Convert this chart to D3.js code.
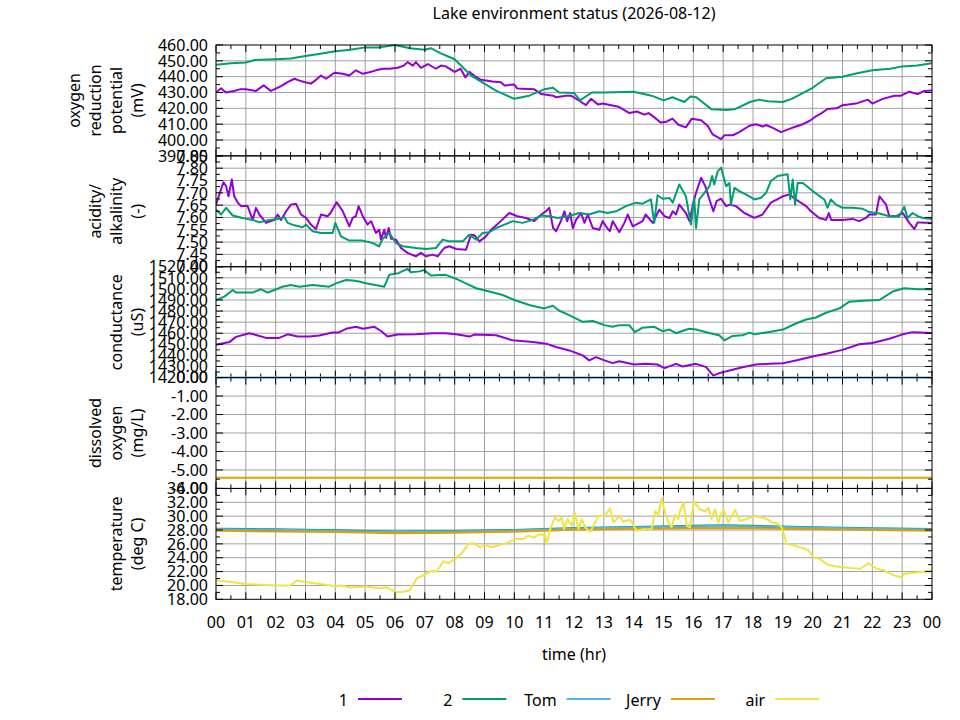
<!DOCTYPE html>
<html><head><meta charset="utf-8">
<script src="https://cdn.jsdelivr.net/npm/d3@7"></script>
<style>body{margin:0;background:#fff} svg{display:block} text{font-family:"Noto Sans",sans-serif;fill:#000}</style>
</head><body><svg id="c" width="960" height="720"></svg>
<script>
// ---------------- data ----------------
const title = "Lake environment status (2026-08-12)";
const xTitle = "time (hr)";
const xTickLabels = ["00","01","02","03","04","05","06","07","08","09","10","11","12","13","14","15","16","17","18","19","20","21","22","23","00"];
const seriesNames = ["1","2","Tom","Jerry","air"];
const seriesColors = ["#9400d3","#009e73","#56b4e9","#e69f00","#f0e442"];

const orp1 = [[0,430],[0.17,432.7],[0.33,430],[0.6,431],[0.8,432],[1.0,432],[1.34,431],[1.6,434.5],[1.84,431],[2.18,434],[2.4,436.6],[2.63,438.7],[2.8,437.5],[2.96,436.6],[3.18,435.6],[3.35,438],[3.52,440.7],[3.69,438.7],[3.97,442.5],[4.25,441.8],[4.47,440.7],[4.69,444],[4.92,441.8],[5.14,442.8],[5.36,444],[5.59,445],[5.81,445],[6.09,445.6],[6.3,447],[6.42,449.2],[6.6,447],[6.7,449.2],[6.87,445.6],[7.1,448],[7.37,445],[7.54,447],[7.7,446.5],[8.0,443],[8.2,445],[8.36,439.5],[8.5,443],[8.66,440.5],[8.88,438],[9.27,437],[9.55,436.5],[9.67,434.5],[10.0,435],[10.1,432.5],[10.67,432],[10.9,429],[11.3,428],[11.4,427],[11.73,428],[11.9,428],[12.24,424],[12.4,422],[12.57,426],[12.8,422.5],[12.96,423],[13.5,421],[13.86,417],[14.1,418],[14.36,416],[14.5,417],[14.75,413.5],[14.9,411],[15.1,411.6],[15.3,413.5],[15.5,409.6],[15.75,408],[15.95,413.5],[16.26,412.5],[16.48,409],[16.65,403.5],[16.93,400.5],[17.04,403],[17.32,403],[17.54,405],[17.88,409],[18.1,410],[18.33,408.5],[18.44,409.5],[18.66,407.7],[18.94,405],[19.22,407],[19.44,408.5],[19.67,410],[19.89,412],[20.11,415],[20.3,417],[20.5,419.6],[20.8,420],[21.0,422],[21.45,423],[21.85,425.5],[22.0,423],[22.35,426],[22.74,428],[22.96,428],[23.24,430.5],[23.52,429],[23.74,431],[24,431.3]];
const orp2 = [[0,447.5],[0.5,448.5],[1,449],[1.3,450.5],[2,451],[2.5,451.5],[3,453],[3.5,454.5],[4,456],[4.5,457],[5,458.5],[5.5,458.5],[6,460],[6.5,458],[7,457],[7.2,458],[7.5,455],[8,451],[8.27,446],[8.55,440.7],[9.05,435],[9.4,431],[10,426],[10.5,428],[11,432],[11.3,433],[11.5,430],[12,429.7],[12.2,425],[12.6,430],[13,430],[14,430.5],[14.6,428],[15,425],[15.3,427],[15.7,424],[15.9,427.5],[16.1,427],[16.6,419.5],[17.1,419],[17.4,419.5],[17.9,424],[18.2,425.5],[18.5,424.5],[19,424],[19.3,426],[20,433],[20.45,439],[21,440],[21.45,442],[22,444],[22.6,445],[23,446.5],[23.5,447],[24,448.5]];

const ph1 = [[0,7.652],[0.11,7.693],[0.25,7.743],[0.34,7.727],[0.42,7.686],[0.53,7.754],[0.61,7.686],[0.73,7.66],[0.84,7.646],[1.06,7.646],[1.23,7.59],[1.34,7.639],[1.45,7.612],[1.68,7.578],[1.96,7.59],[2.07,7.612],[2.18,7.59],[2.35,7.625],[2.51,7.652],[2.68,7.656],[2.85,7.612],[3.02,7.598],[3.18,7.571],[3.35,7.553],[3.52,7.612],[3.74,7.605],[3.85,7.62],[4.04,7.662],[4.25,7.625],[4.47,7.564],[4.58,7.598],[4.69,7.605],[4.78,7.646],[4.92,7.605],[5.08,7.571],[5.2,7.585],[5.36,7.537],[5.47,7.55],[5.53,7.51],[5.64,7.55],[5.7,7.517],[5.79,7.557],[5.87,7.513],[6.03,7.51],[6.2,7.476],[6.42,7.456],[6.7,7.442],[6.87,7.456],[7.04,7.442],[7.26,7.449],[7.43,7.442],[7.65,7.476],[7.82,7.483],[8.05,7.472],[8.38,7.469],[8.55,7.53],[8.66,7.528],[8.83,7.503],[9.05,7.523],[9.22,7.55],[9.5,7.58],[9.83,7.618],[10.1,7.605],[10.39,7.598],[10.67,7.585],[10.9,7.612],[11.06,7.625],[11.17,7.639],[11.3,7.557],[11.4,7.544],[11.56,7.585],[11.68,7.625],[11.77,7.585],[11.87,7.618],[11.96,7.557],[12.07,7.59],[12.24,7.618],[12.35,7.578],[12.46,7.612],[12.63,7.557],[12.85,7.55],[12.96,7.585],[13.07,7.564],[13.2,7.544],[13.3,7.585],[13.52,7.54],[13.69,7.578],[13.8,7.612],[13.97,7.564],[14.3,7.585],[14.4,7.612],[14.64,7.578],[14.86,7.632],[15.03,7.605],[15.2,7.598],[15.31,7.625],[15.42,7.612],[15.53,7.652],[15.75,7.618],[15.87,7.585],[16.0,7.66],[16.09,7.70],[16.26,7.761],[16.4,7.727],[16.54,7.673],[16.67,7.625],[16.78,7.666],[16.93,7.676],[17.1,7.646],[17.21,7.652],[17.43,7.646],[17.71,7.618],[18.05,7.598],[18.32,7.612],[18.6,7.66],[19.0,7.686],[19.22,7.693],[19.44,7.673],[19.78,7.646],[19.94,7.625],[20.22,7.598],[20.45,7.59],[20.54,7.618],[20.62,7.59],[21.0,7.59],[21.34,7.594],[21.56,7.585],[21.79,7.598],[21.9,7.612],[22.12,7.612],[22.24,7.686],[22.46,7.652],[22.57,7.605],[22.8,7.605],[23.02,7.618],[23.24,7.578],[23.41,7.553],[23.52,7.58],[23.74,7.578],[24,7.578]];
const ph2 = [[0,7.632],[0.17,7.612],[0.34,7.639],[0.56,7.608],[0.89,7.598],[1.23,7.59],[1.45,7.58],[1.79,7.59],[2.07,7.594],[2.29,7.602],[2.4,7.578],[2.63,7.568],[2.9,7.56],[3.02,7.571],[3.24,7.544],[3.52,7.537],[3.91,7.537],[4.0,7.578],[4.19,7.523],[4.47,7.506],[4.92,7.506],[5.25,7.496],[5.47,7.483],[5.59,7.514],[5.81,7.537],[6.03,7.496],[6.26,7.483],[6.7,7.476],[7.04,7.472],[7.37,7.476],[7.6,7.51],[7.82,7.503],[8.05,7.503],[8.27,7.503],[8.49,7.53],[8.72,7.51],[8.94,7.537],[9.16,7.54],[9.39,7.557],[9.67,7.571],[9.95,7.585],[10.28,7.578],[10.62,7.59],[10.9,7.608],[11.17,7.605],[11.45,7.598],[11.79,7.605],[12.18,7.618],[12.51,7.612],[12.85,7.625],[13.13,7.618],[13.41,7.625],[13.74,7.646],[14.08,7.66],[14.3,7.656],[14.58,7.673],[14.69,7.578],[14.8,7.69],[14.97,7.676],[15.2,7.679],[15.31,7.66],[15.53,7.734],[15.75,7.686],[15.92,7.571],[16.03,7.68],[16.09,7.557],[16.2,7.673],[16.37,7.70],[16.54,7.727],[16.63,7.768],[16.7,7.734],[16.82,7.788],[16.93,7.802],[17.1,7.727],[17.21,7.74],[17.26,7.652],[17.38,7.72],[17.54,7.707],[17.77,7.693],[18.05,7.673],[18.27,7.68],[18.44,7.70],[18.6,7.748],[18.83,7.768],[19.16,7.775],[19.25,7.673],[19.33,7.754],[19.41,7.652],[19.5,7.74],[19.67,7.74],[20.0,7.707],[20.39,7.673],[20.5,7.639],[20.61,7.673],[20.78,7.652],[21.0,7.639],[21.34,7.639],[21.68,7.635],[21.9,7.622],[22.24,7.616],[22.57,7.605],[22.9,7.605],[23.07,7.643],[23.18,7.598],[23.35,7.618],[23.52,7.605],[23.69,7.598],[24,7.594]];

const cond1 = [[0,1449.7],[0.45,1452],[0.67,1456.7],[1.12,1460],[1.4,1458],[1.68,1455.8],[2.12,1455.8],[2.4,1459],[2.74,1457],[3.13,1457],[3.46,1458],[3.91,1460.6],[4.1,1460.6],[4.36,1464],[4.69,1465.8],[4.92,1464],[5.31,1465.8],[5.53,1462],[5.75,1457],[6.09,1458.8],[6.7,1459],[7.26,1460],[7.7,1460],[8.05,1459],[8.5,1457],[8.66,1458.8],[9.39,1458.2],[9.94,1453.6],[10.62,1452],[11.06,1450.6],[11.4,1447.6],[11.84,1444.5],[12.29,1440],[12.51,1435.5],[12.74,1438.5],[13.02,1435.5],[13.3,1433],[13.52,1434.8],[14.02,1431.8],[14.4,1432.4],[14.8,1431.8],[15.03,1428.5],[15.42,1432.4],[15.64,1430],[16.09,1432.4],[16.43,1429.4],[16.67,1421.8],[16.87,1424],[17.21,1426.4],[17.65,1429.4],[18.1,1431.8],[18.55,1432.4],[19.0,1433],[19.44,1435.5],[20.0,1439],[20.45,1441.5],[21.0,1445],[21.56,1450],[22.0,1451.2],[22.57,1455],[23.02,1459],[23.35,1461],[24,1460.3]];
const cond2 = [[0,1490],[0.28,1493],[0.56,1499],[0.67,1496.7],[1.23,1496.7],[1.5,1499.7],[1.73,1496.7],[1.96,1499],[2.23,1502],[2.5,1503.6],[2.8,1502],[3.24,1503.6],[3.8,1502],[4.02,1505],[4.36,1508],[4.58,1507.6],[4.8,1506.7],[5.03,1505],[5.64,1502],[5.81,1512.7],[6.09,1514],[6.42,1518],[6.53,1515],[6.82,1515.8],[6.98,1517],[7.2,1512],[7.7,1512.7],[8.05,1509],[8.38,1505],[8.72,1500.6],[9.16,1497.6],[9.61,1494.5],[10.0,1490],[10.5,1485.5],[11.0,1482.4],[11.29,1484.8],[11.51,1480.3],[11.84,1476.4],[12.29,1470.3],[12.63,1471],[13.02,1467.3],[13.3,1465.8],[13.52,1467.3],[13.85,1467.3],[14.04,1461],[14.3,1465],[14.69,1465.8],[14.97,1461.8],[15.2,1463.3],[15.42,1460],[15.7,1462.7],[15.87,1464],[16.09,1463.3],[16.59,1459.7],[16.87,1458.2],[17.04,1453.6],[17.32,1457.6],[17.65,1458.2],[17.88,1460.6],[18.05,1459],[18.55,1461.2],[19.0,1463.3],[19.44,1468.8],[19.78,1472.4],[20.11,1474.2],[20.45,1478.5],[20.9,1482.4],[21.23,1488.5],[21.68,1489.4],[22.24,1490],[22.68,1497.6],[23.07,1500.6],[23.52,1499.7],[24,1499.7]];

const doTom = [[0,0],[24,0]];
const doJerry = [[0,-5.42],[24,-5.42]];

const temp1 = [[0,28.08],[2,27.98],[4,27.84],[6,27.68],[8,27.72],[10,27.88],[12,28.18],[14,28.33],[16,28.48],[17,28.58],[18,28.48],[20,28.28],[22,28.12],[24,28.03]];
const temp2 = [[0,28.2],[2,28.1],[4,27.95],[6,27.8],[8,27.85],[10,28.0],[12,28.3],[14,28.45],[16,28.6],[17,28.7],[18,28.6],[20,28.4],[22,28.25],[24,28.15]];
const tempTom = [[0,28.12],[2,28.02],[4,27.87],[6,27.72],[8,27.77],[10,27.92],[12,28.22],[14,28.37],[16,28.52],[17,28.62],[18,28.52],[20,28.32],[22,28.17],[24,28.07]];
const tempJerry = [[0,27.9],[2,27.8],[4,27.7],[6,27.55],[8,27.6],[10,27.75],[12,28.05],[14,28.15],[16,28.25],[17,28.3],[18,28.25],[20,28.1],[22,28.0],[24,27.9]];
const tempAir = [[0,20.76],[0.5,20.5],[1,20.2],[1.5,20.1],[2,20.0],[2.5,20.0],[2.7,20.7],[3,20.5],[3.5,20.2],[4,19.9],[4.2,20.0],[4.5,19.7],[5,19.85],[5.5,19.6],[5.7,19.75],[6,19.1],[6.17,19.0],[6.5,19.3],[6.73,21.0],[7.01,21.6],[7.23,22.1],[7.4,22.0],[7.62,23.5],[7.79,23.2],[8.01,23.8],[8.23,24.6],[8.46,26.0],[8.63,26.1],[8.85,25.5],[9.02,25.85],[9.24,25.5],[9.52,25.85],[9.8,26.2],[10.02,26.7],[10.3,26.7],[10.47,27.2],[10.64,26.9],[10.86,27.4],[11.03,27.2],[11.08,26.0],[11.2,28.1],[11.36,29.8],[11.48,29.3],[11.59,29.8],[11.67,28.1],[11.78,29.6],[11.92,28.6],[12.03,30.5],[12.15,28.1],[12.26,29.6],[12.37,28.4],[12.54,27.7],[12.65,28.6],[12.82,30.0],[13.04,30.1],[13.21,31.1],[13.32,29.1],[13.54,30.0],[13.65,29.2],[13.88,29.5],[14.1,27.9],[14.32,28.1],[14.6,28.1],[14.72,30.7],[14.83,30.2],[14.94,32.6],[15.05,30.5],[15.16,29.1],[15.27,28.4],[15.39,30.2],[15.5,29.6],[15.55,30.7],[15.67,32.0],[15.78,28.6],[15.89,28.4],[16.02,32.1],[16.22,31.0],[16.39,30.7],[16.5,31.2],[16.61,29.6],[16.73,31.0],[16.84,29.1],[17.0,31.0],[17.17,29.1],[17.4,30.9],[17.56,29.3],[17.79,29.6],[18.07,30.0],[18.29,29.8],[18.46,29.6],[18.63,29.1],[18.79,29.0],[18.96,28.4],[19.13,26.0],[19.3,25.85],[19.58,25.5],[19.86,25.1],[20.02,24.1],[20.25,23.8],[20.5,23.0],[20.92,22.66],[21.3,22.5],[21.59,22.4],[21.87,23.2],[22.15,22.4],[22.37,22.2],[22.7,21.5],[22.93,21.2],[23.1,21.7],[23.32,21.8],[23.6,21.95],[24,22.2]];

const yLabels = [["oxygen","reduction","potential","(mV)"],["acidity/","alkalinity","(-)"],["conductance","(uS)"],["dissolved","oxygen","(mg/L)"],["temperature","(deg C)"]];
const yDomains = [[390,460],[7.40,7.85],[1420,1520],[-6,0],[18,34]];
const yMajorSteps = [10,0.05,10,1,2];
const panelSeries = [
  [[0,orp1],[1,orp2]],
  [[0,ph1],[1,ph2]],
  [[0,cond1],[1,cond2]],
  [[2,doTom],[3,doJerry]],
  [[0,temp1],[1,temp2],[2,tempTom],[3,tempJerry],[4,tempAir]]
];

// ---------------- drawing ----------------
const svg = d3.select("#c");
const L = 216, R = 932, T = 45, B = 599.3;
const PH = (B - T) / 5;
const FS = 16;
const x = d3.scaleLinear().domain([0, 24]).range([L, R]);
const fmt = v => d3.format(".2f")(v).replace("\u2212", "-");
const GRID = "#a0a0a0";

svg.append("text").attr("x", (L+R)/2).attr("y", 19).attr("text-anchor","middle")
  .attr("font-size", FS).text(title);

const defs = svg.append("defs");

function ticksFor(domain, step){
  const out = [];
  const s = Math.ceil(domain[0]/step - 1e-6), e = Math.floor(domain[1]/step + 1e-6);
  for (let i = s; i <= e; i++) out.push(+(i*step).toFixed(6));
  return out;
}

for (let p = 0; p < 5; p++){
  const top = T + p*PH, bot = top + PH;
  const y = d3.scaleLinear().domain(yDomains[p]).range([bot, top]);
  const g = svg.append("g");
  const step = yMajorSteps[p];
  const major = ticksFor(yDomains[p], step);
  const minor = ticksFor(yDomains[p], step/2).filter(v => !major.some(m => Math.abs(m-v) < 1e-6));

  // grid
  for (let h = 1; h < 24; h++){
    g.append("line").attr("x1", x(h)).attr("x2", x(h)).attr("y1", top).attr("y2", bot)
      .attr("stroke", GRID).attr("stroke-width", 1);
  }
  major.forEach(v => {
    const yy = y(v);
    if (yy > top + 0.5 && yy < bot - 0.5)
      g.append("line").attr("x1", L).attr("x2", R).attr("y1", yy).attr("y2", yy)
        .attr("stroke", GRID).attr("stroke-width", 1);
  });

  // series
  const cid = "clip" + p;
  defs.append("clipPath").attr("id", cid).append("rect")
    .attr("x", L).attr("y", top - 2).attr("width", R - L).attr("height", PH + 4);
  const line = d3.line().x(d => x(d[0])).y(d => y(d[1]));
  const sg = g.append("g").attr("clip-path", `url(#${cid})`);
  panelSeries[p].forEach(([ci, data]) => {
    sg.append("path").attr("d", line(data)).attr("fill", "none")
      .attr("stroke", seriesColors[ci]).attr("stroke-width", 2)
      .attr("stroke-linejoin", "round");
  });

  // border
  g.append("rect").attr("x", L).attr("y", top).attr("width", R - L).attr("height", PH)
    .attr("fill", "none").attr("stroke", "#000").attr("stroke-width", 1);

  // y ticks
  major.forEach(v => {
    const yy = y(v);
    g.append("line").attr("x1", L).attr("x2", L + 7).attr("y1", yy).attr("y2", yy).attr("stroke", "#000");
    g.append("line").attr("x1", R).attr("x2", R - 7).attr("y1", yy).attr("y2", yy).attr("stroke", "#000");
    g.append("text").attr("x", 208).attr("y", yy).attr("dy", "0.36em").attr("text-anchor", "end")
      .attr("font-size", FS).text(fmt(v));
  });
  minor.forEach(v => {
    const yy = y(v);
    g.append("line").attr("x1", L).attr("x2", L + 4).attr("y1", yy).attr("y2", yy).attr("stroke", "#000");
    g.append("line").attr("x1", R).attr("x2", R - 4).attr("y1", yy).attr("y2", yy).attr("stroke", "#000");
  });

  // x ticks top and bottom
  for (let k = 0; k <= 48; k++){
    const h = k/2, len = (k % 2 === 0) ? 7 : 4;
    g.append("line").attr("x1", x(h)).attr("x2", x(h)).attr("y1", top).attr("y2", top + len).attr("stroke", "#000");
    g.append("line").attr("x1", x(h)).attr("x2", x(h)).attr("y1", bot).attr("y2", bot - len).attr("stroke", "#000");
  }

  // y label
  const lines = yLabels[p], n = lines.length, cy = (top + bot)/2;
  lines.forEach((t, j) => {
    const xb = 143 - (n - 1 - j)*21;
    g.append("text").attr("transform", `translate(${xb},${cy}) rotate(-90)`)
      .attr("text-anchor", "middle").attr("font-size", FS).text(t);
  });
}

// x tick labels
xTickLabels.forEach((t, i) => {
  svg.append("text").attr("x", x(i)).attr("y", 628).attr("text-anchor", "middle")
    .attr("font-size", FS).text(t);
});
svg.append("text").attr("x", (L+R)/2).attr("y", 660).attr("text-anchor", "middle")
  .attr("font-size", FS).text(xTitle);

// legend
seriesNames.forEach((name, i) => {
  const xe = 348 + i*104.3;
  svg.append("text").attr("x", xe).attr("y", 706).attr("text-anchor", "end")
    .attr("font-size", FS).text(name);
  svg.append("line").attr("x1", xe + 10).attr("x2", xe + 54).attr("y1", 699).attr("y2", 699)
    .attr("stroke", seriesColors[i]).attr("stroke-width", 2);
});
</script>
</body></html>
